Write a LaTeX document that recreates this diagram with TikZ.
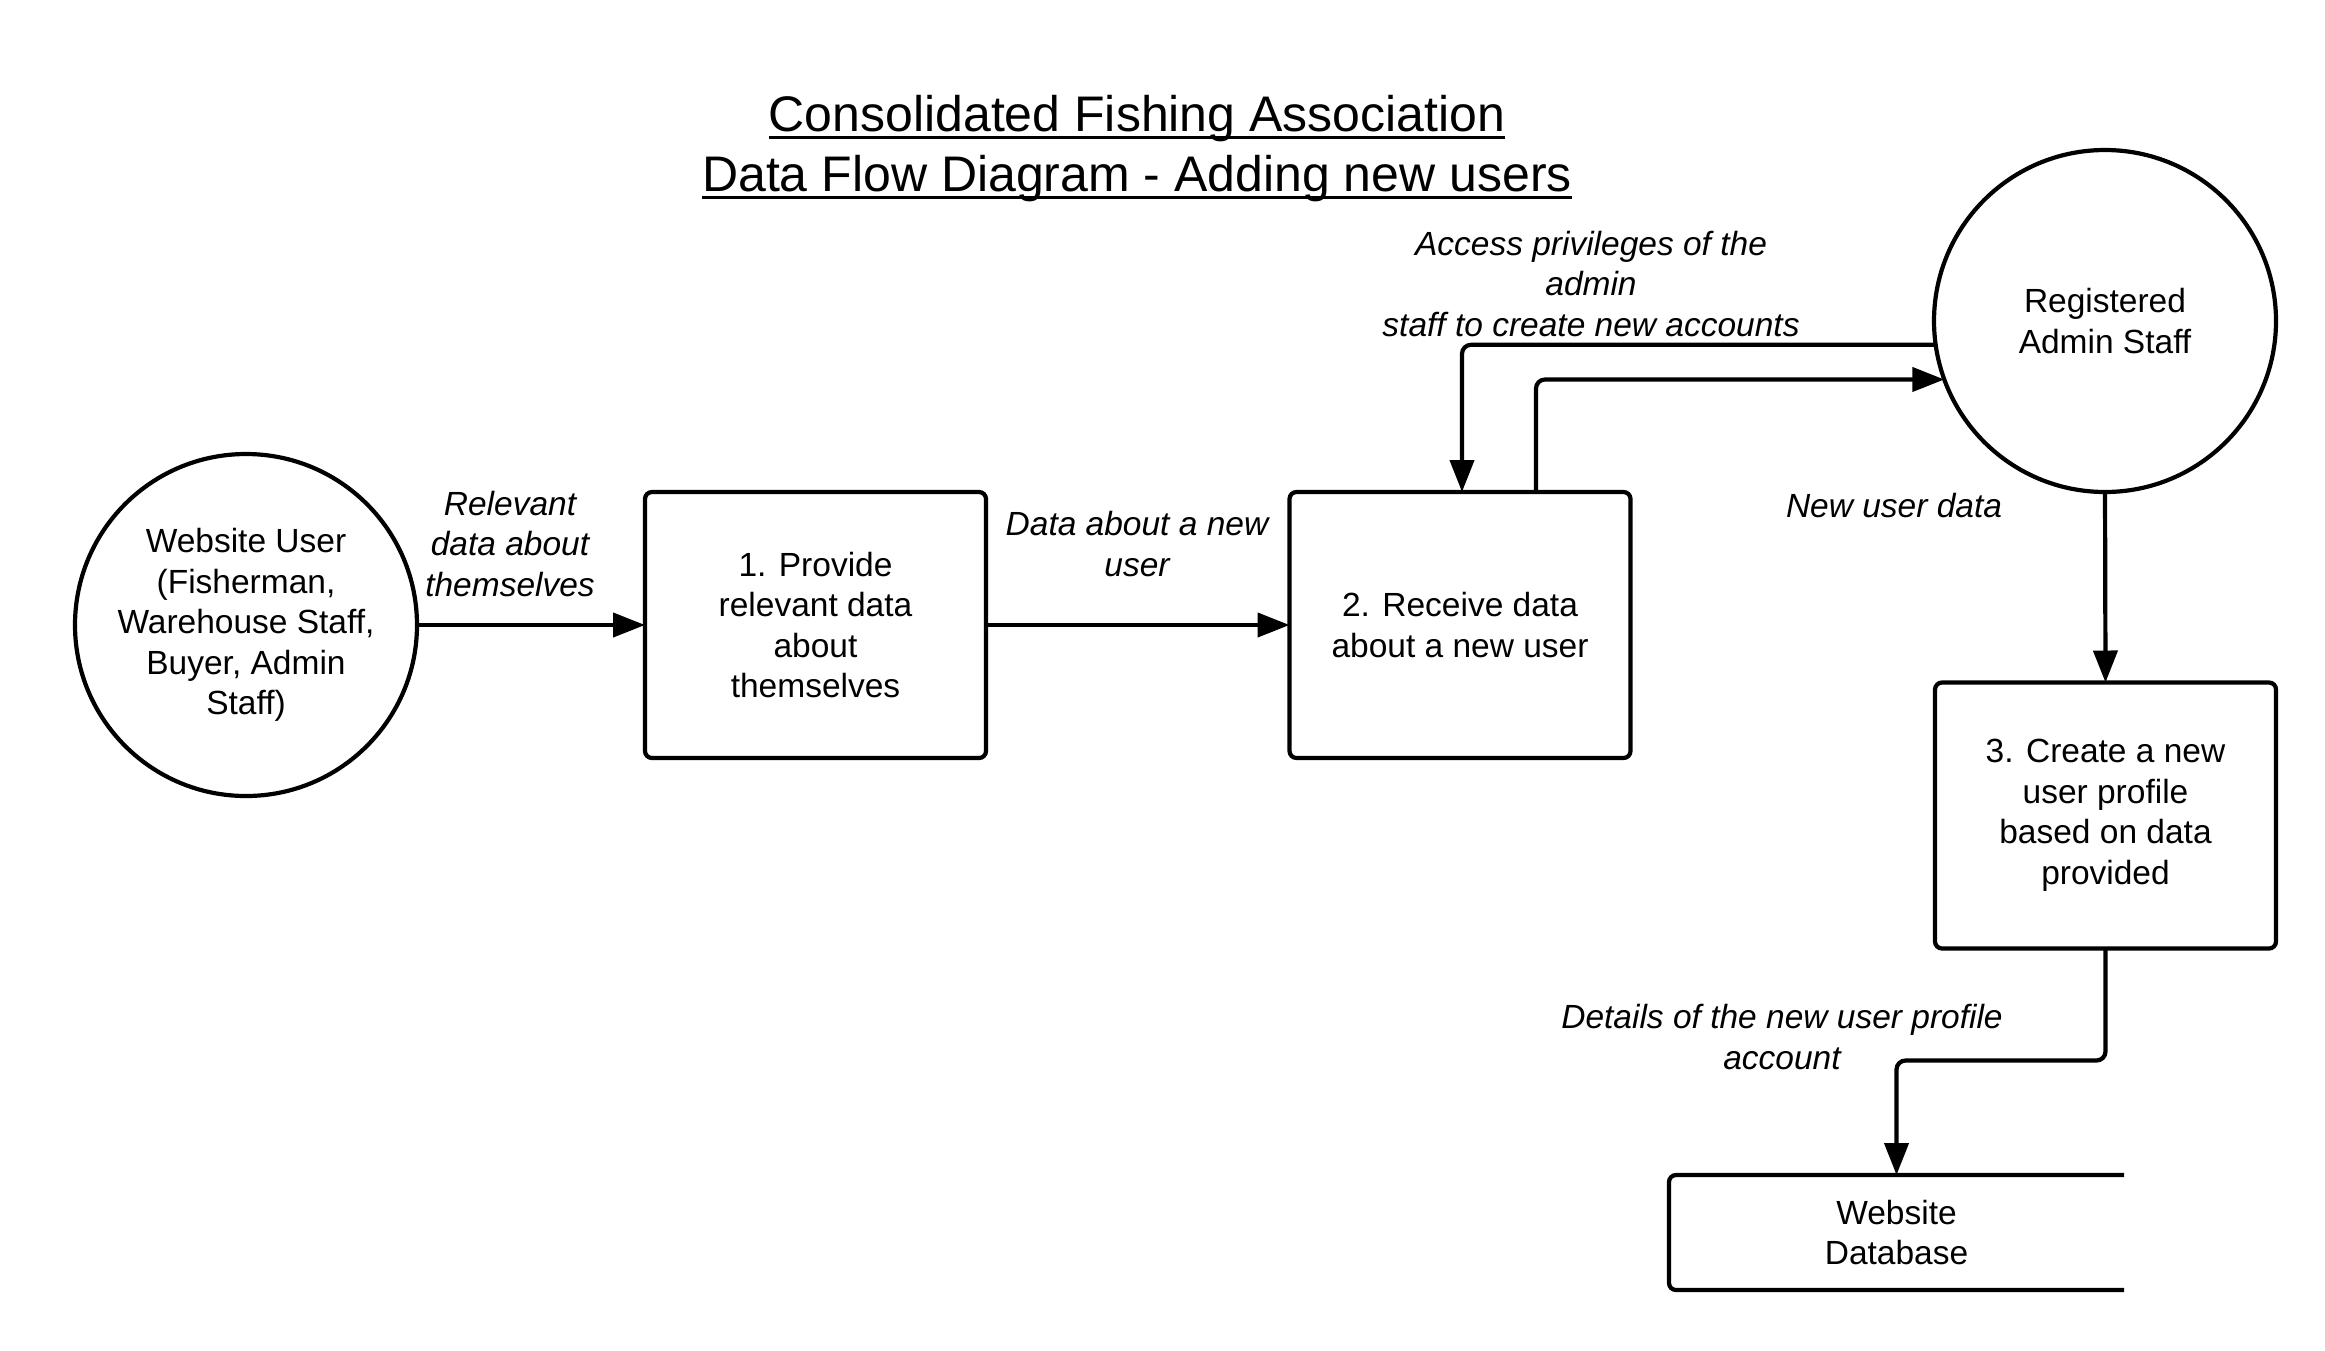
\documentclass[tikz,border=0pt]{standalone}
\usepackage{fontspec}
\setmainfont{Liberation Sans}
\usetikzlibrary{arrows.meta}
\begin{document}
\begin{tikzpicture}[x=1pt,y=-1pt,
  every node/.style={inner sep=0pt, outer sep=0pt, font=\fontsize{33.5}{40.5}\selectfont, align=center},
  proc/.style={draw, line width=4.2pt, rounded corners=7pt, minimum width=341pt, minimum height=266pt},
  ent/.style={draw, circle, line width=4.2pt, minimum size=342pt},
  lab/.style={font=\fontsize{33.5}{40.5}\selectfont\itshape},
  flow/.style={line width=4.2pt, -{Triangle[length=32pt 0 0,width=24pt 0 0]}, rounded corners=9pt},
  ttl/.style={font=\fontsize{50}{60}\selectfont, anchor=base},
  uline/.style={line width=3pt}
]
\fill[white] (0,0) rectangle (2325,1350);
\useasboundingbox (0,0) rectangle (2325,1350);

% title
\node[ttl] (t1) at (1137,131) {Consolidated Fishing Association};
\node[ttl] (t2) at (1137,191) {Data Flow Diagram - Adding new users};
\draw[uline] ([yshift=-6pt]t1.base west) -- ([yshift=-6pt]t1.base east);
\draw[uline] ([yshift=-6pt]t2.base west) -- ([yshift=-6pt]t2.base east);

% nodes
\node[ent] (wu) at (246,625) {Website User\\(Fisherman,\\Warehouse Staff,\\Buyer, Admin\\Staff)};
\node[proc] (b1) at (815.5,625) {1. Provide\\relevant data\\about\\themselves};
\node[proc] (b2) at (1460,625) {2. Receive data\\about a new user};
\node[ent] (adm) at (2105,321) {Registered\\Admin Staff};
\node[proc] (b3) at (2105.5,815.5) {3. Create a new\\user profile\\based on data\\provided};
\node[minimum width=455pt, minimum height=115pt] (db) at (1896.5,1232.5) {Website\\Database};
\draw[line width=4.2pt, rounded corners=7pt] (db.north east) -- (db.north west) -- (db.south west) -- (db.south east);

% labels
\node[lab] (l1) at (510,544) {Relevant\\data about\\themselves};
\node[lab] (l2) at (1137,544) {Data about a new\\user};
\node[lab] (l3) at (1591,284) {Access privileges of the\\admin\\staff to create new accounts};
\node[lab] (l4) at (1894,506) {New user data};
\node[lab] (l5) at (1782,1037) {Details of the new user profile\\account};

% flows
\draw[flow] (wu.east) -- (b1.west);
\draw[flow] (b1.east) -- (b2.west);
\draw[flow] (adm.188.7) -| ([xshift=2pt]b2.north);
\draw[flow] ([xshift=76pt]b2.north) |- (adm.200.2);
\draw[flow] (adm.south) -- (b3.north);
\draw[flow] (b3.south) -- ++(0,112) -| (db.north);
\end{tikzpicture}
\end{document}
